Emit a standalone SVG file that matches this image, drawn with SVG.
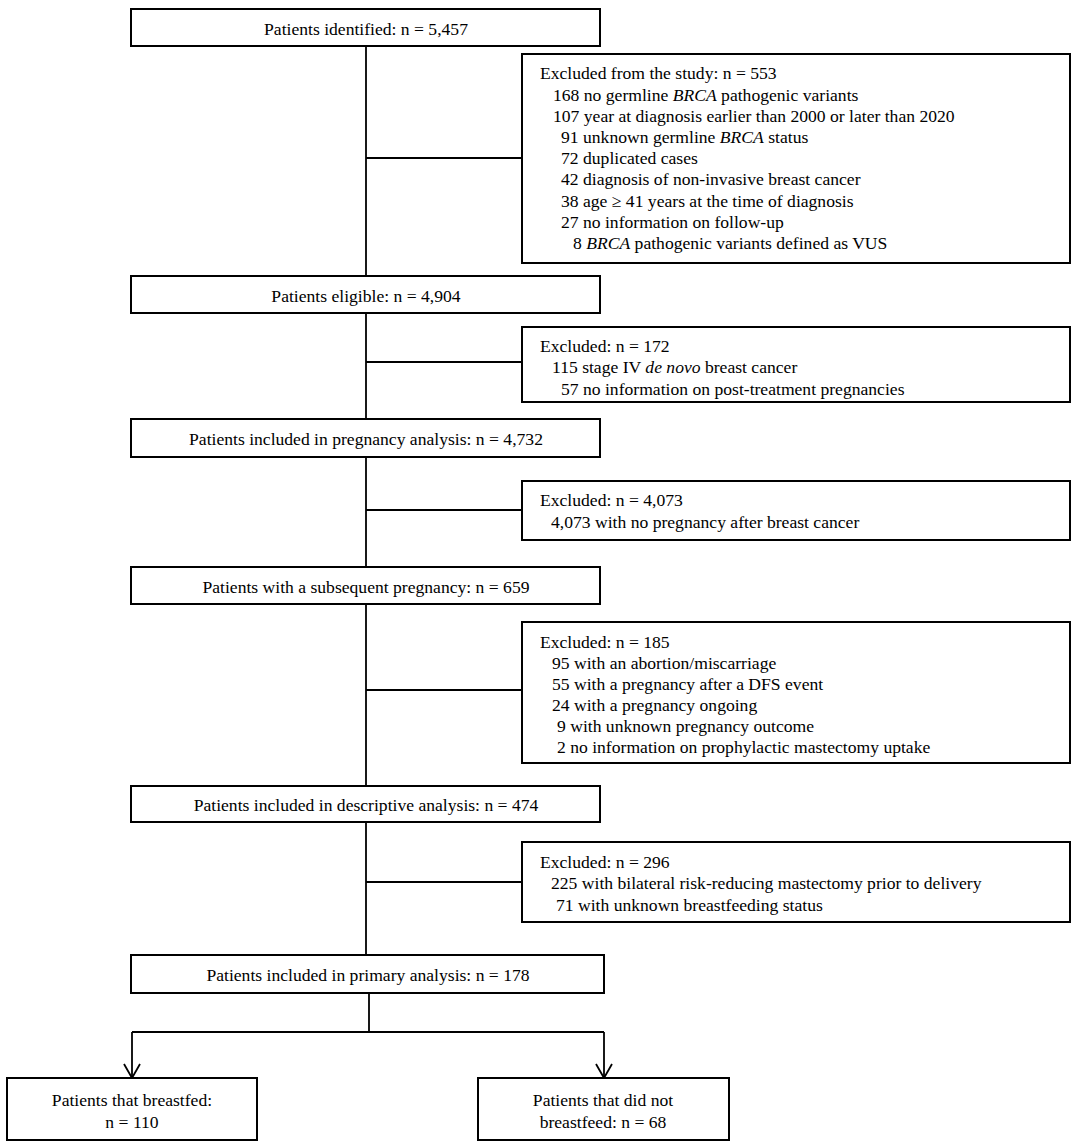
<svg xmlns="http://www.w3.org/2000/svg" width="1080" height="1143" viewBox="0 0 1080 1143">
<style>
rect{fill:#fff;stroke:#000;stroke-width:2}
text{font-family:"Liberation Serif","Times New Roman",serif;font-size:17.6px;fill:#000}
.c{text-anchor:middle}
.ln{stroke:#000;stroke-width:1.8;fill:none}
.i{font-style:italic}
</style>
<defs>
<marker id="ah" markerWidth="16" markerHeight="18" refX="15" refY="9" orient="auto" markerUnits="userSpaceOnUse" viewBox="0 0 16 18">
<path d="M1,1 L15,9 L1,17" fill="none" stroke="#000" stroke-width="1.8"/>
</marker>
</defs>
<g id="connectors">
<path class="ln" d="M366,46 V955"/>
<path class="ln" d="M366,158 H522"/>
<path class="ln" d="M366,362 H522"/>
<path class="ln" d="M366,510 H522"/>
<path class="ln" d="M366,690 H522"/>
<path class="ln" d="M366,882 H522"/>
<path class="ln" d="M369,993 V1032 M132,1032 H604"/>
<path class="ln" d="M132,1032 V1078" marker-end="url(#ah)"/>
<path class="ln" d="M604,1032 V1078" marker-end="url(#ah)"/>
</g>
<g id="n1"><rect x="131" y="9" width="469" height="37"/><text class="c" x="366" y="35">Patients identified: n = 5,457</text></g>
<g id="x1"><rect x="522" y="54" width="548" height="209"/>
<text x="540" y="79">Excluded from the study: n = 553</text>
<text x="553" y="101">168 no germline <tspan class="i">BRCA</tspan> pathogenic variants</text>
<text x="553" y="122">107 year at diagnosis earlier than 2000 or later than 2020</text>
<text x="561" y="143">91 unknown germline <tspan class="i">BRCA</tspan> status</text>
<text x="561" y="164">72 duplicated cases</text>
<text x="561" y="185">42 diagnosis of non-invasive breast cancer</text>
<text x="561" y="207">38 age ≥ 41 years at the time of diagnosis</text>
<text x="561" y="228">27 no information on follow-up</text>
<text x="573" y="249">8 <tspan class="i">BRCA</tspan> pathogenic variants defined as VUS</text>
</g>
<g id="n2"><rect x="131" y="276" width="469" height="37"/><text class="c" x="366" y="302">Patients eligible: n = 4,904</text></g>
<g id="x2"><rect x="522" y="327" width="548" height="75"/>
<text x="540" y="352">Excluded: n = 172</text>
<text x="552" y="373">115 stage IV <tspan class="i">de novo</tspan> breast cancer</text>
<text x="561" y="395">57 no information on post-treatment pregnancies</text>
</g>
<g id="n3"><rect x="131" y="419" width="469" height="38"/><text class="c" x="366" y="445">Patients included in pregnancy analysis: n = 4,732</text></g>
<g id="x3"><rect x="522" y="481" width="548" height="59"/>
<text x="540" y="506">Excluded: n = 4,073</text>
<text x="551" y="528">4,073 with no pregnancy after breast cancer</text>
</g>
<g id="n4"><rect x="131" y="567" width="469" height="37"/><text class="c" x="366" y="593">Patients with a subsequent pregnancy: n = 659</text></g>
<g id="x4"><rect x="522" y="622" width="548" height="141"/>
<text x="540" y="648">Excluded: n = 185</text>
<text x="552" y="669">95 with an abortion/miscarriage</text>
<text x="552" y="690">55 with a pregnancy after a DFS event</text>
<text x="552" y="711">24 with a pregnancy ongoing</text>
<text x="557" y="732">9 with unknown pregnancy outcome</text>
<text x="557" y="753">2 no information on prophylactic mastectomy uptake</text>
</g>
<g id="n5"><rect x="131" y="786" width="469" height="36"/><text class="c" x="366" y="811">Patients included in descriptive analysis: n = 474</text></g>
<g id="x5"><rect x="522" y="842" width="548" height="80"/>
<text x="540" y="868">Excluded: n = 296</text>
<text x="551" y="889">225 with bilateral risk-reducing mastectomy prior to delivery</text>
<text x="556" y="911">71 with unknown breastfeeding status</text>
</g>
<g id="n6"><rect x="131" y="955" width="473" height="38"/><text class="c" x="368" y="981">Patients included in primary analysis: n = 178</text></g>
<g id="n7"><rect x="7" y="1078" width="250" height="62"/><text class="c" x="132" y="1106">Patients that breastfed:</text><text class="c" x="132" y="1128">n = 110</text></g>
<g id="n8"><rect x="478" y="1078" width="251" height="62"/><text class="c" x="603" y="1106">Patients that did not</text><text class="c" x="603" y="1128">breastfeed: n = 68</text></g>
</svg>
